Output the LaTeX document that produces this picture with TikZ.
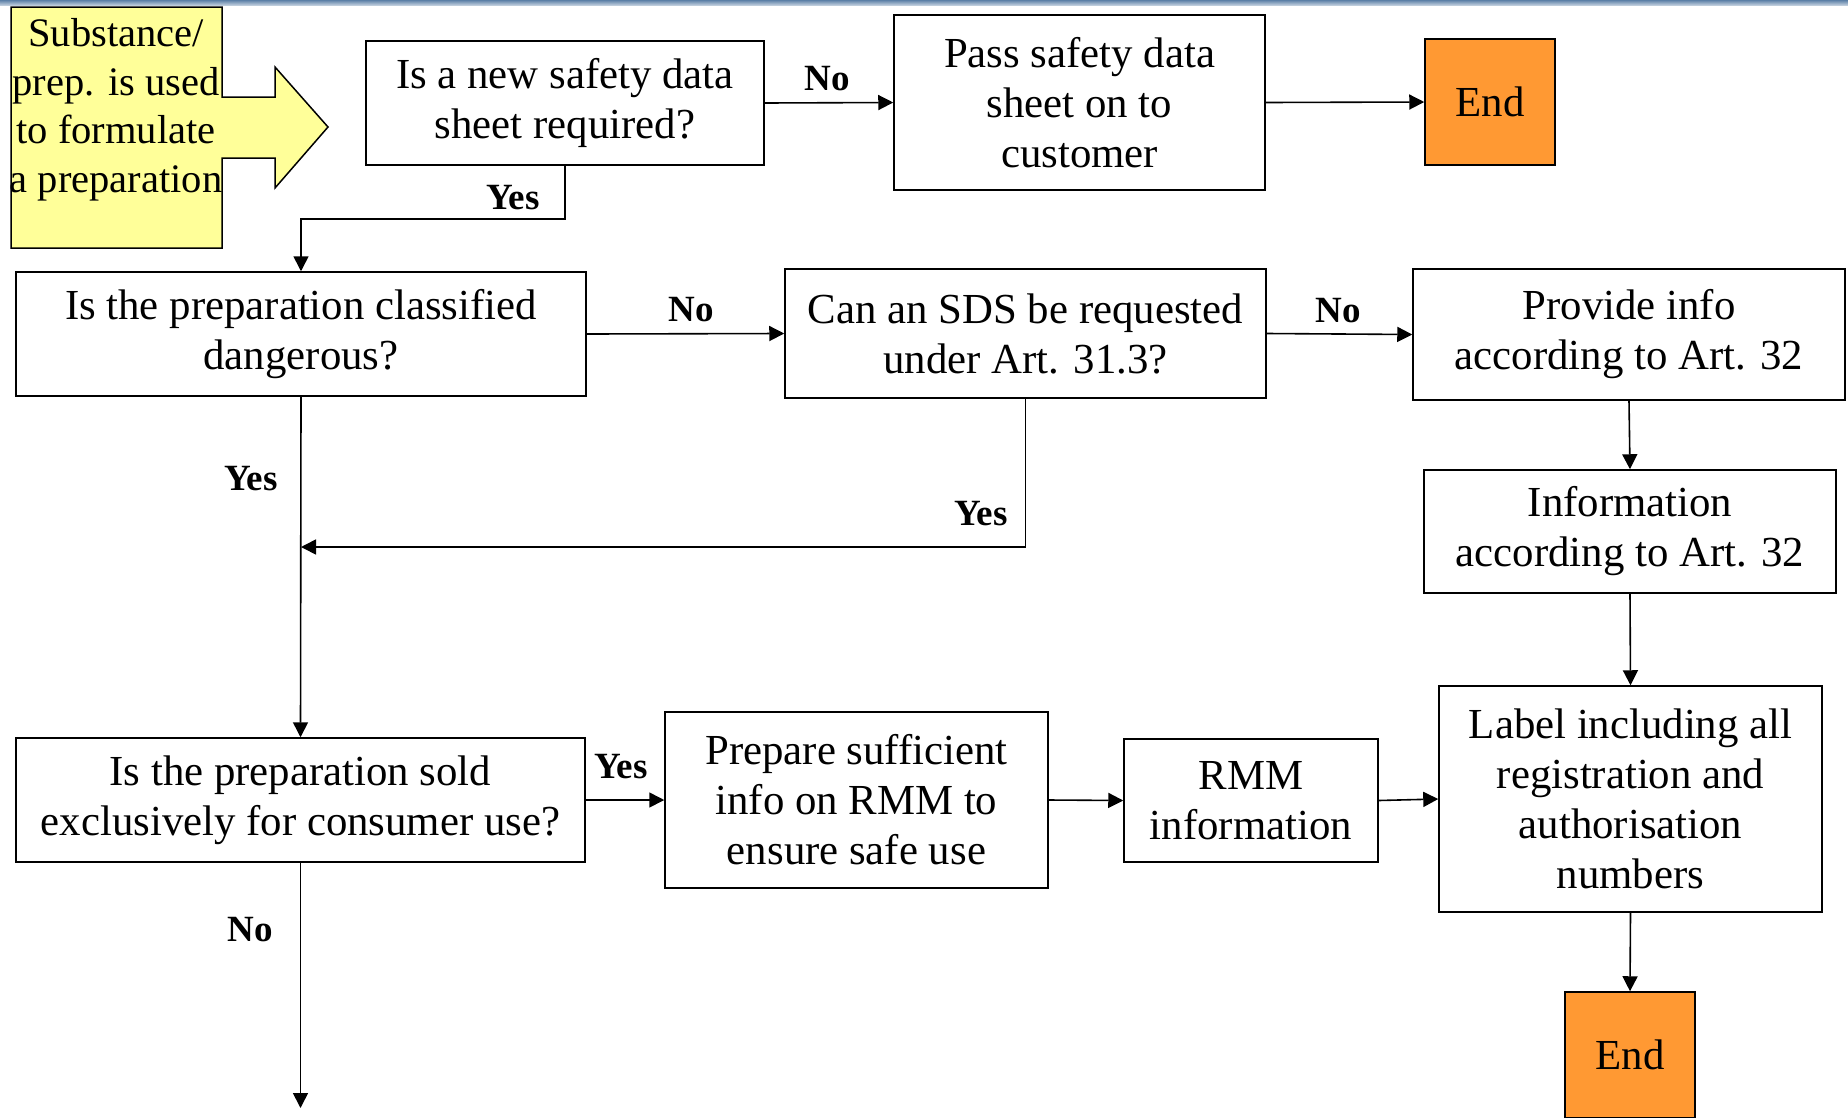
\documentclass[tikz,border=0pt]{standalone}
\usepackage{fontspec}
\setmainfont{Liberation Serif}
\usepackage{tikz}
\usetikzlibrary{arrows.meta,positioning,calc}
\definecolor{inyellow}{HTML}{FFFF99}
\definecolor{endorange}{HTML}{FF9933}
\definecolor{barblue}{HTML}{5B7FA6}

\begin{document}
\begin{tikzpicture}[
    x=1pt, y=-1pt,
    box/.style={draw, line width=1.5pt, fill=white, align=center, inner sep=0pt, font=\fontsize{42.8}{50}\selectfont},
    endbox/.style={box, fill=endorange, minimum width=130, minimum height=126},
    lbl/.style={font=\fontsize{37}{44}\selectfont\bfseries, inner sep=0pt},
    arr/.style={line width=1.6pt, -{Triangle[length=15pt,width=15pt]}}
]
    \useasboundingbox (0,0) rectangle (1848,1117);
    \shade[top color=barblue, bottom color=barblue!40] (0,0) rectangle (1848,5);

    % Start arrow
    \filldraw[fill=inyellow, line width=1.5pt] (11,7) -- (222,7) -- (222,97) -- (275,97) -- (275,67) -- (328,127) -- (275,188) -- (275,158) -- (222,158) -- (222,248) -- (11,248) -- cycle;
    \node[align=center, inner sep=0pt, font=\fontsize{40.5}{48.5}\selectfont] (start) at (116,110) {Substance/\\prep. is used\\to formulate\\a preparation};

    % Top row
    \node[box, minimum width=398, minimum height=124] (newsds) at (565,103) {Is a new safety data\\sheet required?};
    \node[box, minimum width=371, minimum height=175] (pass) at (1079.5,102.5) {Pass safety data\\sheet on to\\customer};
    \node[endbox] (end1) at (1490,102) {End};

    % Second row
    \node[box, minimum width=570, minimum height=124] (danger) at (301,334) {Is the preparation classified\\dangerous?};
    \node[box, minimum width=481, minimum height=129] (request) at (1025.5,333.5) {Can an SDS be requested\\under Art. 31.3?};
    \node[box, minimum width=432, minimum height=131] (provide) at (1629,334.5) {Provide info\\according to Art. 32};
    \node[box, minimum width=412, minimum height=123] (info) at (1630,531.5) {Information\\according to Art. 32};

    % Third row
    \node[box, minimum width=569, minimum height=124] (consumer) at (300.5,800) {Is the preparation sold\\exclusively for consumer use?};
    \node[box, minimum width=383, minimum height=176] (prepare) at (856.5,800) {Prepare sufficient\\info on RMM to\\ensure safe use};
    \node[box, minimum width=254, minimum height=123] (rmm) at (1251,800.5) {RMM\\information};
    \node[box, minimum width=383, minimum height=226] (label) at (1630.5,799) {Label including all\\registration and\\authorisation\\numbers};
    \node[endbox] (end2) at (1630,1055) {End};

    \coordinate (join) at (301,547);
    \coordinate (exit) at (300.5,1108);

    % Connectors
    \draw[arr] (newsds.east) -- (pass.west);
    \draw[arr] (pass.east) -- (end1.west);
    \draw[arr] (newsds.south) -- ++(0,53) -| (danger.north);
    \draw[arr] (danger.east) -- (request.west);
    \draw[arr] (request.east) -- (provide.west);
    \draw[arr] (provide.south) -- (info.north);
    \draw[arr] (info.south) -- (label.north);
    \draw[arr] (label.south) -- (end2.north);
    \draw[arr] (request.south) |- (join);
    \draw[arr] (danger.south) -- (consumer.north);
    \draw[arr] (consumer.east) -- (prepare.west);
    \draw[arr] (prepare.east) -- (rmm.west);
    \draw[arr] (rmm.east) -- (label.west);
    \draw[arr] (consumer.south) -- (exit);

    % Labels
    \node[lbl] (no1) at (827,79) {No};
    \node[lbl] (yes1) at (513,198) {Yes};
    \node[lbl] (no2) at (691,310) {No};
    \node[lbl] (no3) at (1338,311) {No};
    \node[lbl] (yes2) at (981,514) {Yes};
    \node[lbl] (yes3) at (251,479) {Yes};
    \node[lbl] (yes4) at (621,767) {Yes};
    \node[lbl] (no4) at (250,930) {No};
\end{tikzpicture}
\end{document}
